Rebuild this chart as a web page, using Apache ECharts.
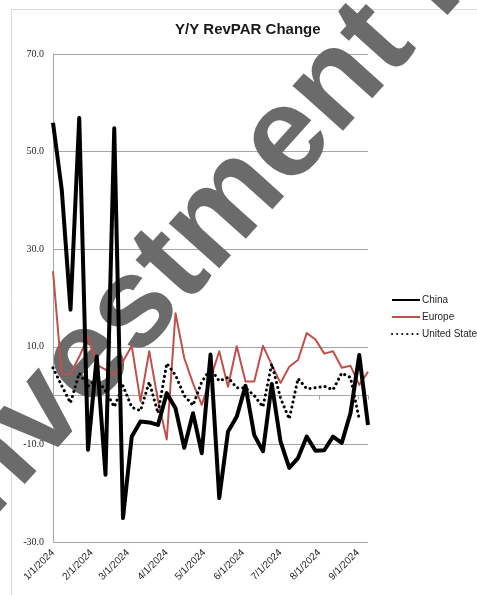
<!DOCTYPE html>
<html>
<head>
<meta charset="utf-8">
<script src="https://cdn.jsdelivr.net/npm/echarts@6/dist/echarts.min.js"></script>
<style>
  html, body { margin: 0; padding: 0; background: #fff; }
  #chart { width: 477px; height: 595px; }
</style>
</head>
<body>
<div id="chart"></div>
<script>
// Weekly observation dates
const weeks = [
  '2024-01-01', '2024-01-08', '2024-01-15', '2024-01-22', '2024-01-29',
  '2024-02-05', '2024-02-12', '2024-02-19', '2024-02-26',
  '2024-03-04', '2024-03-11', '2024-03-18', '2024-03-25',
  '2024-04-01', '2024-04-08', '2024-04-15', '2024-04-22', '2024-04-29',
  '2024-05-06', '2024-05-13', '2024-05-20', '2024-05-27',
  '2024-06-03', '2024-06-10', '2024-06-17', '2024-06-24',
  '2024-07-01', '2024-07-08', '2024-07-15', '2024-07-22', '2024-07-29',
  '2024-08-05', '2024-08-12', '2024-08-19', '2024-08-26',
  '2024-09-02', '2024-09-09'
];

// Y/Y RevPAR change, %
const china = [
  55.9, 42.2, 17.6, 56.9, -11.1, 8.0, -16.2, 54.8, -25.1,
  -8.4, -5.3, -5.5, -6.0, 0.5, -2.6, -10.7, -3.6, -11.8,
  8.4, -21.0, -7.4, -4.3, 2.0, -8.1, -11.4, 2.4, -9.4,
  -14.8, -12.8, -8.4, -11.3, -11.2, -8.4, -9.7, -3.6, 8.3, -6.0
];
const europe = [
  25.5, 4.3, 4.4, 8.0, 12.0, 6.3, 5.3, 4.3, 7.0,
  10.2, -1.2, 9.1, -1.0, -9.0, 16.9, 7.7, 2.5, -1.9,
  3.5, 9.1, 1.8, 10.1, 2.9, 2.9, 10.2, 6.3, 2.6,
  5.9, 7.3, 12.8, 11.5, 8.6, 9.1, 5.7, 6.1, 2.2, 4.9
];
const unitedStates = [
  5.7, 2.0, -1.5, 4.6, 1.9, 3.4, 1.0, -2.3, 2.0,
  -2.4, -3.1, 2.8, -3.6, 6.6, 4.2, 0.0, -2.0, 2.8,
  5.5, 3.0, 3.7, 1.6, 1.6, 0.0, -2.3, 6.5, -0.5,
  -4.8, 3.5, 1.4, 1.6, 1.9, 1.2, 4.6, 3.7, -4.8, null
];

const seriesNames = ['China', 'Europe', 'United States'];
const yMin = -30, yMax = 70;

const DAY = 24 * 3600 * 1000;
const pair = (vals) => weeks.map((d, i) => [d, vals[i]]);

const chart = echarts.init(document.getElementById('chart'));
chart.setOption({
  animation: false,
  backgroundColor: '#ffffff',
  title: {
    text: 'Y/Y RevPAR Change',
    left: 170,
    top: 17,
    textStyle: { fontFamily: 'Liberation Sans', fontSize: 15, fontWeight: 'bold', color: '#1a1a1a' }
  },
  graphic: [
    {
      type: 'rect',
      z: -10,
      shape: { x: 11.5, y: 9.5, width: 500, height: 620 },
      style: { fill: 'none', stroke: '#d9d9d9', lineWidth: 1 }
    },
    {
      type: 'text',
      z: 1,
      x: -13,
      y: 569,
      rotation: 48 * Math.PI / 180,
      style: {
        text: 'Investment Research',
        font: 'bold 128px "Liberation Sans"',
        fill: '#6b6b6b',
        align: 'left',
        verticalAlign: 'bottom'
      }
    }
  ],
  legend: {
    orient: 'vertical',
    left: 386,
    top: 290,
    itemWidth: 28,
    itemHeight: 12,
    itemGap: 7,
    data: seriesNames,
    itemStyle: { color: 'rgba(0,0,0,0)', borderWidth: 0, opacity: 0 },
    textStyle: { fontFamily: 'Liberation Sans', fontSize: 10, color: '#262626', padding: [0, 0, 0, -3] }
  },
  grid: { left: 53, right: 109, top: 54, bottom: 53, containLabel: false },
  xAxis: [
    {
      type: 'time',
      min: '2024-01-01',
      max: '2024-09-09',
      position: 'bottom',
      z: 5,
      minInterval: 28 * DAY,
      maxInterval: 31 * DAY,
      axisLine: { show: false, onZero: false },
      axisTick: { show: false },
      splitLine: { show: false },
      axisLabel: {
        rotate: 45,
        margin: 9,
        formatter: '{M}/{d}/{yyyy}',
        fontFamily: 'Liberation Sans',
        fontSize: 10,
        color: '#262626'
      }
    },
    {
      type: 'time',
      min: '2024-01-01',
      max: '2024-09-09',
      position: 'top',
      minInterval: 28 * DAY,
      maxInterval: 31 * DAY,
      axisLine: { show: true, onZero: true, lineStyle: { color: '#a6a6a6', width: 1 } },
      axisTick: { show: true, inside: true, length: 4, lineStyle: { color: '#a6a6a6' } },
      axisLabel: { show: false },
      splitLine: { show: false }
    }
  ],
  yAxis: [
    {
      // gridlines and the vertical axis line
      type: 'value',
      min: yMin,
      max: yMax,
      interval: 10,
      position: 'left',
      axisLine: { show: true, lineStyle: { color: '#a6a6a6', width: 1 } },
      axisTick: { show: false },
      axisLabel: { show: false },
      splitLine: { show: true, lineStyle: { color: ['#a6a6a6', 'rgba(0,0,0,0)'], width: 1 } }
    },
    {
      // tick labels, drawn above the backdrop text
      type: 'value',
      min: yMin,
      max: yMax,
      interval: 10,
      position: 'left',
      z: 5,
      axisLine: { show: false },
      axisTick: { show: false },
      splitLine: { show: false },
      axisLabel: {
        margin: 9,
        fontFamily: 'Liberation Serif',
        fontSize: 10,
        color: '#262626',
        formatter: (v) => ((v - yMin) % 20 === 0 ? v.toFixed(1) : '')
      }
    }
  ],
  series: [
    {
      name: 'China',
      type: 'line',
      data: pair(china),
      symbol: 'none',
      z: 4,
      lineStyle: { color: '#000000', width: 4, join: 'round' },
      itemStyle: { color: '#000000' }
    },
    {
      name: 'Europe',
      type: 'line',
      data: pair(europe),
      symbol: 'none',
      z: 3,
      lineStyle: { color: '#c0504d', width: 2, join: 'round' },
      itemStyle: { color: '#c0504d' }
    },
    {
      name: 'United States',
      type: 'line',
      data: pair(unitedStates),
      symbol: 'none',
      z: 3,
      lineStyle: { color: '#000000', width: 3, type: [0.1, 5], cap: 'round' },
      itemStyle: { color: '#000000' }
    }
  ]
});
</script>
</body>
</html>
